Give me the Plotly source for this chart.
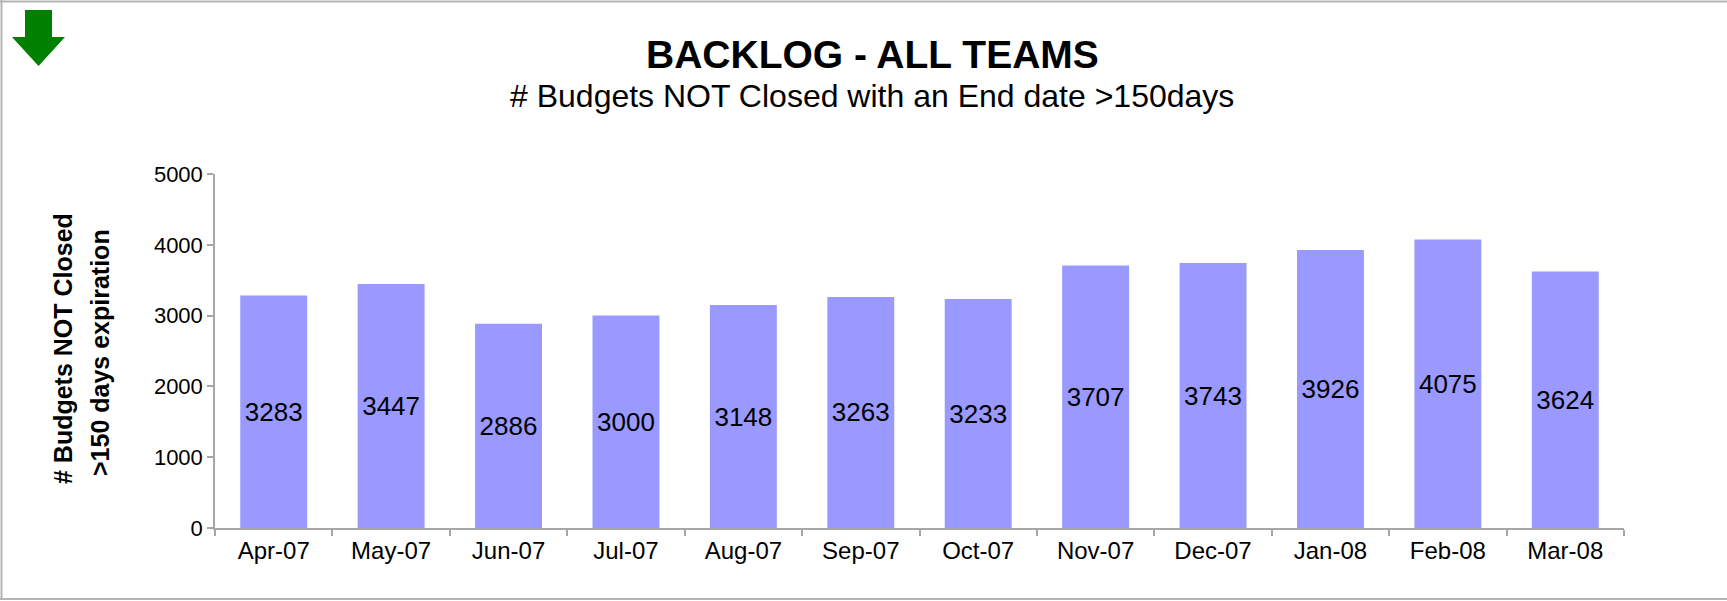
import plotly.graph_objects as go

# ---- data ----
months = ["Apr-07", "May-07", "Jun-07", "Jul-07", "Aug-07", "Sep-07",
          "Oct-07", "Nov-07", "Dec-07", "Jan-08", "Feb-08", "Mar-08"]
budgets_not_closed = [3283, 3447, 2886, 3000, 3148, 3263,
                      3233, 3707, 3743, 3926, 4075, 3624]
y_ticks = [0, 1000, 2000, 3000, 4000, 5000]

title_text = "BACKLOG - ALL TEAMS"
subtitle_text = "# Budgets NOT Closed with an End date >150days"
ytitle_lines = ["# Budgets NOT Closed", ">150 days expiration"]

# ---- layout geometry (pixels) ----
W, H = 1727, 601
L, R, T, B = 215, 1624, 174, 528
FONT = "Liberation Sans, Arial, Helvetica, sans-serif"


def px(x):
    return (x - L) / (R - L)


def py(y):
    return (B - y) / (B - T)


fig = go.Figure(go.Bar(
    x=months,
    y=budgets_not_closed,
    text=[str(v) for v in budgets_not_closed],
    textposition="inside",
    insidetextanchor="middle",
    textangle=0,
    constraintext="none",
    textfont=dict(family=FONT, size=26, color="black"),
    marker=dict(color="#9999FF", line=dict(width=0)),
    hoverinfo="x+y",
))

axis_grey = "#a6a6a6"

fig.update_layout(
    width=W, height=H,
    margin=dict(l=L, r=W - R, t=T, b=H - B, autoexpand=False),
    paper_bgcolor="white",
    plot_bgcolor="white",
    bargap=0.43,
    showlegend=False,
    font=dict(family=FONT, color="black"),
    xaxis=dict(
        type="category",
        showline=True, linecolor=axis_grey, linewidth=1.5,
        ticks="outside", tickson="boundaries", ticklen=6,
        tickcolor=axis_grey, tickwidth=1.5,
        tickfont=dict(family=FONT, size=24, color="black"),
        showgrid=False, zeroline=False,
    ),
    yaxis=dict(
        range=[0, 5000],
        tickvals=y_ticks,
        showline=True, linecolor=axis_grey, linewidth=1.5,
        ticks="outside", ticklen=6, tickcolor=axis_grey, tickwidth=1.5,
        tickfont=dict(family=FONT, size=22, color="black"),
        showgrid=False, zeroline=False,
    ),
)

annotations = [
    dict(text="<b>" + title_text + "</b>", x=px(872), y=py(55),
         font=dict(family=FONT, size=39, color="black")),
    dict(text=subtitle_text, x=px(872), y=py(96),
         font=dict(family=FONT, size=32, color="black")),
    dict(text="<b>" + ytitle_lines[0] + "</b>", x=px(63), y=py(349),
         textangle=-90, font=dict(family=FONT, size=25, color="black")),
    dict(text="<b>" + ytitle_lines[1] + "</b>", x=px(100), y=py(353),
         textangle=-90, font=dict(family=FONT, size=25, color="black")),
]
for a in annotations:
    a.update(xref="paper", yref="paper", showarrow=False,
             xanchor="center", yanchor="middle")
fig.update_layout(annotations=annotations)

# border frame (left, top, bottom) and green arrow (decoration)
frame = dict(color="#b4b4b4", width=2)
arrow_pts = [(25, 10), (52, 10), (52, 37), (65, 37), (38.5, 66),
             (12, 37), (25, 37)]
arrow_path = "M " + " L ".join(f"{px(x)},{py(y)}" for x, y in arrow_pts) + " Z"
fig.update_layout(shapes=[
    dict(type="line", xref="paper", yref="paper",
         x0=px(1.5), x1=px(1.5), y0=py(0), y1=py(600), line=frame),
    dict(type="line", xref="paper", yref="paper",
         x0=px(0), x1=px(1727), y0=py(1.5), y1=py(1.5), line=frame),
    dict(type="line", xref="paper", yref="paper",
         x0=px(0), x1=px(1727), y0=py(599), y1=py(599), line=frame),
    dict(type="path", xref="paper", yref="paper", path=arrow_path,
         fillcolor="#008000", line=dict(color="#008000", width=0)),
])

fig.write_html(
    "out.html",
    config={"displayModeBar": False},
    post_script="document.body.style.margin='0';document.body.style.overflow='hidden';",
)
